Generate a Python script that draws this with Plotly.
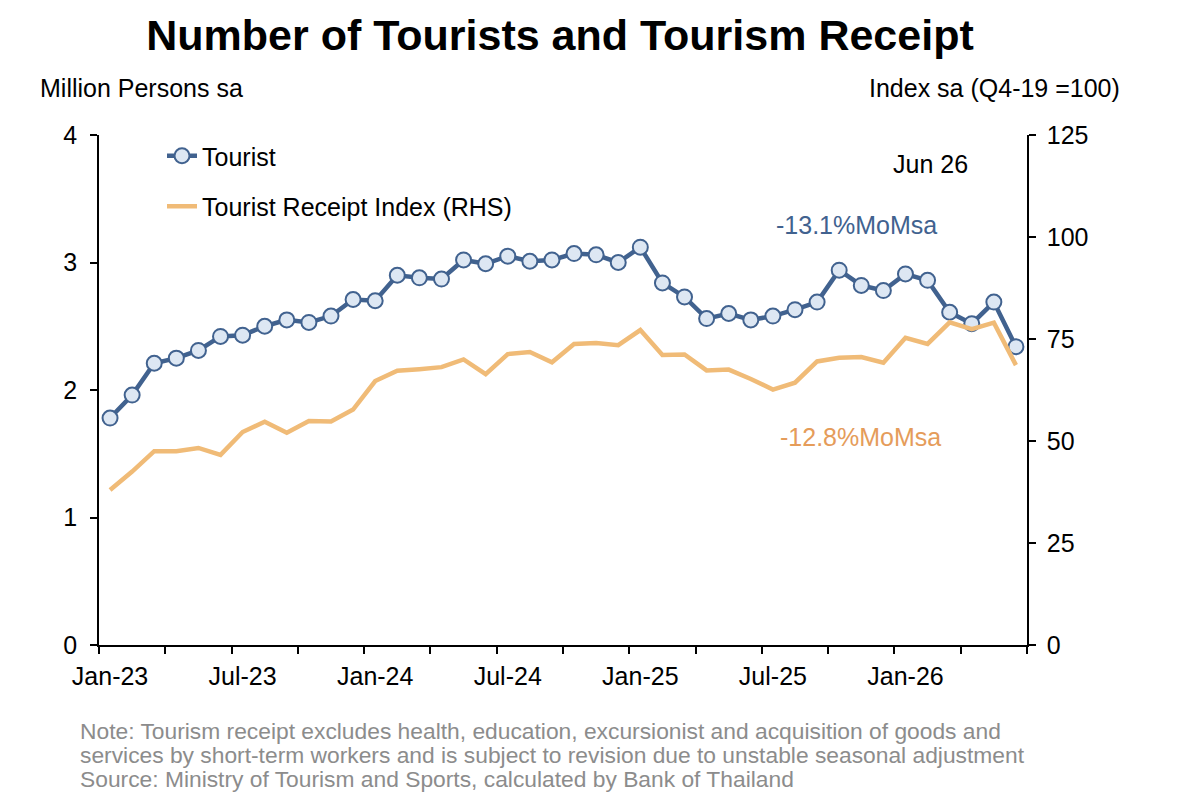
import plotly.graph_objects as go

months = ["Jan-23","Feb-23","Mar-23","Apr-23","May-23","Jun-23","Jul-23","Aug-23","Sep-23","Oct-23","Nov-23","Dec-23",
          "Jan-24","Feb-24","Mar-24","Apr-24","May-24","Jun-24","Jul-24","Aug-24","Sep-24","Oct-24","Nov-24","Dec-24",
          "Jan-25","Feb-25","Mar-25","Apr-25","May-25","Jun-25","Jul-25","Aug-25","Sep-25","Oct-25","Nov-25","Dec-25",
          "Jan-26","Feb-26","Mar-26","Apr-26","May-26","Jun-26"]

tourists = [1.78, 1.96, 2.21, 2.25, 2.31, 2.42, 2.43, 2.50, 2.55, 2.53, 2.58, 2.71,
            2.70, 2.90, 2.88, 2.87, 3.02, 2.99, 3.05, 3.01, 3.02, 3.07, 3.06, 3.00,
            3.12, 2.84, 2.73, 2.56, 2.60, 2.55, 2.58, 2.63, 2.69, 2.94, 2.82, 2.78,
            2.91, 2.86, 2.61, 2.52, 2.69, 2.34]

receipt_index = [38.0, 42.5, 47.5, 47.5, 48.3, 46.6, 52.2, 54.7, 52.0, 54.9, 54.8, 57.7,
                 64.7, 67.2, 67.6, 68.1, 70.0, 66.4, 71.3, 71.8, 69.3, 73.8, 74.0, 73.5,
                 77.2, 71.1, 71.2, 67.3, 67.5, 65.2, 62.6, 64.3, 69.5, 70.4, 70.6, 69.2,
                 75.3, 73.8, 79.1, 77.4, 79.0, 68.6]

xlabels = ["Jan-23", "Jul-23", "Jan-24", "Jul-24", "Jan-25", "Jul-25", "Jan-26"]

x_idx = list(range(len(months)))
label_pos = [months.index(m) for m in xlabels]

BLUE = "#41628f"
FILL = "#dde7f3"
ORANGE = "#f0bb77"
ORANGE_TXT = "#e59c5a"
FONT = "Liberation Sans, Arial, sans-serif"

fig = go.Figure()
fig.add_trace(go.Scatter(
    x=x_idx, y=tourists, name="Tourist", mode="lines+markers",
    line=dict(color=BLUE, width=4.5),
    marker=dict(size=15, color=FILL, line=dict(color=BLUE, width=2)),
    legendgroup="a", customdata=months,
))
fig.add_trace(go.Scatter(
    x=x_idx, y=receipt_index, name="Tourist Receipt Index (RHS)", mode="lines",
    line=dict(color=ORANGE, width=4.5), yaxis="y2", legendgroup="b",
))

W, H = 1186, 811
L, R, T, B = 99, 159, 135, 166
pw, ph = W - L - R, H - T - B

def px(x):
    return (x - L) / pw

def py(y):
    return (H - B - y) / ph

NOTE = dict(size=22.8, color="#8c8c8c")
annos = [
    dict(text="Million Persons sa", x=px(38), y=py(88), xanchor="left", yanchor="middle",
         font=dict(size=25, color="black")),
    dict(text="Index sa (Q4-19 =100)", x=px(1122), y=py(88), xanchor="right", yanchor="middle",
         font=dict(size=25, color="black")),
    dict(text="Jun 26", x=px(930), y=py(164), xanchor="center", yanchor="middle",
         font=dict(size=25, color="black")),
    dict(text="-13.1%MoMsa", x=px(856), y=py(225), xanchor="center", yanchor="middle",
         font=dict(size=25, color=BLUE)),
    dict(text="-12.8%MoMsa", x=px(860), y=py(437), xanchor="center", yanchor="middle",
         font=dict(size=25, color=ORANGE_TXT)),
    dict(text="Note: Tourism receipt excludes health, education, excursionist and acquisition of goods and",
         x=px(78), y=py(731), xanchor="left", yanchor="middle", font=NOTE),
    dict(text="services by short-term workers and is subject to revision due to unstable seasonal adjustment",
         x=px(78), y=py(755), xanchor="left", yanchor="middle", font=NOTE),
    dict(text="Source: Ministry of Tourism and Sports, calculated by Bank of Thailand",
         x=px(78), y=py(779), xanchor="left", yanchor="middle", font=NOTE),
]
for a in annos:
    a.update(xref="paper", yref="paper", showarrow=False)

fig.update_layout(
    width=W, height=H,
    margin=dict(l=L, r=R, t=T, b=B, pad=0),
    paper_bgcolor="white", plot_bgcolor="white",
    font=dict(family=FONT, size=25, color="black"),
    title=dict(text="<b>Number of Tourists and Tourism Receipt</b>", x=px(560), xref="paper",
               xanchor="center", y=1 - 35 / H, yanchor="middle", yref="container",
               font=dict(size=43, color="black")),
    showlegend=True,
    legend=dict(x=px(162), y=py(133), xanchor="left", yanchor="top", bgcolor="rgba(0,0,0,0)",
                font=dict(size=25), tracegroupgap=15, traceorder="grouped"),
    annotations=annos,
    xaxis=dict(
        range=[-0.5, len(months) - 0.5], tickmode="array", tickvals=label_pos, ticktext=xlabels,
        ticks="outside", ticklen=0, tickwidth=0, showgrid=False, zeroline=False,
        showline=True, linecolor="black", linewidth=1.5, ticklabelstandoff=8,
        minor=dict(tickmode="array", tickvals=[i - 0.5 for i in range(0, len(months) + 1, 3)],
                   ticks="outside", ticklen=7, tickwidth=1.5, tickcolor="black", showgrid=False),
        tickfont=dict(size=25),
    ),
    yaxis=dict(
        range=[0, 4], dtick=1, tick0=0, ticks="outside", ticklen=7, tickwidth=1.5, tickcolor="black",
        showgrid=False, zeroline=False, showline=True, linecolor="black", linewidth=1.5,
        tickfont=dict(size=25), ticklabelstandoff=8,
    ),
    yaxis2=dict(
        range=[0, 125], dtick=25, tick0=0, overlaying="y", side="right", ticks="outside",
        ticklen=7, tickwidth=1.5, tickcolor="black", showgrid=False, zeroline=False,
        showline=True, linecolor="black", linewidth=1.5, tickfont=dict(size=25), ticklabelstandoff=6,
    ),
)

fig.write_html("out.html")
